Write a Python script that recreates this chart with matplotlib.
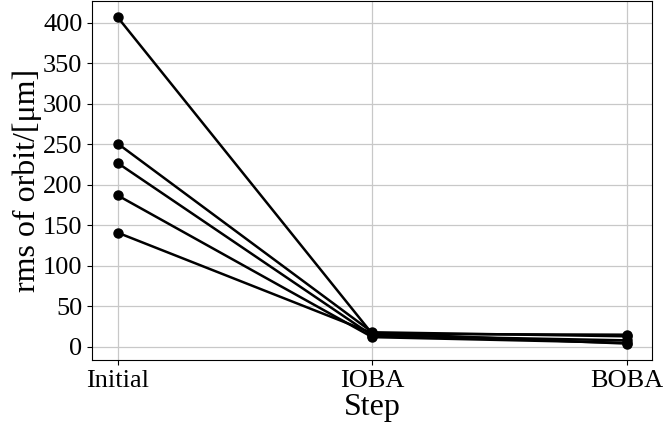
import matplotlib.pyplot as plt
import matplotlib.ticker as ticker

plt.rcParams['font.family'] = ['Liberation Serif', 'DejaVu Serif']

# rms of the orbit at each correction step, one list per run
steps = ['Initial', 'IOBA', 'BOBA']
run_1 = [407, 16, 15]
run_2 = [251, 18, 13]
run_3 = [227, 14, 8]
run_4 = [187, 12, 5]
run_5 = [141, 17, 4]
runs = [run_1, run_2, run_3, run_4, run_5]

fig = plt.figure(figsize=(6.63, 4.29), dpi=100)
ax = fig.add_axes([0.139, 0.161, 0.845, 0.837])

x = list(range(len(steps)))
for r in runs:
    ax.plot(x, r, color='black', linewidth=1.8, marker='o', markersize=6.5)

ax.set_xticks(x)
ax.set_xticklabels(steps)
ax.yaxis.set_major_locator(ticker.MultipleLocator(50))
ax.tick_params(labelsize=19)
ax.set_xlabel('Step', fontsize=23, labelpad=1)
ax.set_ylabel('rms of orbit/[μm]', fontsize=23, labelpad=1)
ax.grid(True, color='#c8c8c8', linewidth=0.9)
ax.set_axisbelow(True)

fig.savefig('out.png', dpi=100)
